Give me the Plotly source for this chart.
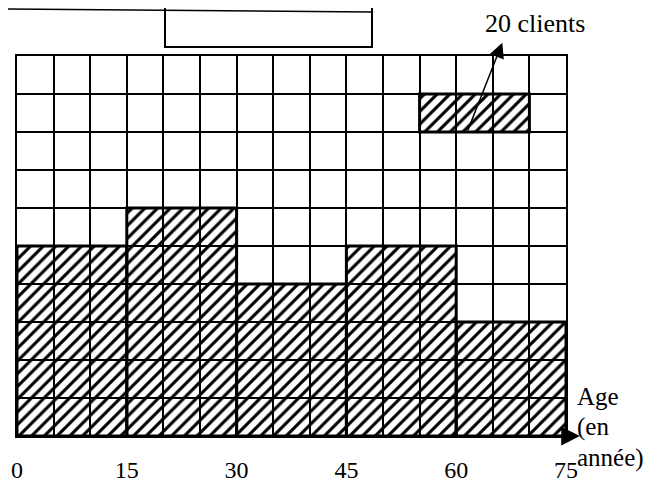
import plotly.graph_objects as go

# Data
age_bins_start = [0, 15, 30, 45, 60]
bin_width = 15
clients = [100, 120, 80, 100, 60]          # clients per 15-year class
tick_labels = ["0", "15", "30", "45", "60", "75"]
tick_positions = [0, 15, 30, 45, 60, 75]
legend_start = 55
legend_base = 160
legend_value = 20
legend_text = "20 clients"
x_title_lines = ["Age", "(en", "année)"]

SERIF = "'Liberation Serif', 'Times New Roman', Times, serif"

centers = [s + bin_width / 2 for s in age_bins_start]

pattern = dict(shape="/", size=9, solidity=0.34, fillmode="replace", fgcolor="black")

fig = go.Figure()
fig.add_trace(go.Bar(
    x=centers, y=clients, width=[bin_width] * len(clients),
    marker=dict(color="black", pattern=pattern, line=dict(color="black", width=3)),
    hoverinfo="skip", showlegend=False,
))
fig.add_trace(go.Bar(
    x=[legend_start + bin_width / 2], y=[legend_value], base=[legend_base], width=[bin_width],
    marker=dict(color="black", pattern=pattern, line=dict(color="black", width=3)),
    hoverinfo="skip", showlegend=False,
))

# the page body adds an 8px offset; margins compensate so the plot sits like the reference
fig.update_layout(
    width=660, height=484,
    margin=dict(l=9, r=102, t=48, b=56),
    paper_bgcolor="white", plot_bgcolor="white",
    barmode="overlay",
    font=dict(family=SERIF, color="black", size=20),
    xaxis=dict(
        range=[0, 75], tickvals=tick_positions, ticktext=tick_labels,
        showgrid=True, gridcolor="black", gridwidth=1.5,
        minor=dict(dtick=5, showgrid=True, gridcolor="black", gridwidth=1.5),
        showline=True, linecolor="black", linewidth=2, mirror=True,
        ticks="", ticklabelstandoff=11, zeroline=False, automargin=False,
        tickfont=dict(family=SERIF, size=24),
    ),
    yaxis=dict(
        range=[0, 200], dtick=20, showgrid=True, gridcolor="black", gridwidth=1.5,
        showticklabels=False, showline=True, linecolor="black", linewidth=2,
        mirror=True, zeroline=False, ticks="", automargin=False,
    ),
)

# "20 clients" label with arrow
fig.add_annotation(
    x=66.3, y=207, ax=61.5, ay=160, xref="x", yref="y", axref="x", ayref="y",
    text="", showarrow=True, arrowhead=2, arrowsize=2.0, arrowwidth=1.5, arrowcolor="black",
)
fig.add_annotation(
    x=(535 - 17) / 549, y=(436 - 24) / 380, xref="paper", yref="paper",
    xanchor="center", yanchor="middle",
    text=legend_text, showarrow=False, font=dict(family=SERIF, size=26),
)

# x-axis arrow
fig.add_annotation(
    x=(580 - 17) / 549, y=0, ax=-15, ay=0, xref="paper", yref="paper",
    text="", showarrow=True, arrowhead=2, arrowsize=1.5, arrowwidth=2.5, arrowcolor="black",
)

# Axis title lines
for i, line in enumerate(x_title_lines):
    fig.add_annotation(
        x=(575 - 17) / 549, y=(436 - (396 + 31 * i)) / 380, xref="paper", yref="paper",
        text=line, showarrow=False, xanchor="left", yanchor="middle",
        font=dict(family=SERIF, size=25),
    )

# partial table at the top (scan remnant)
def px(xp):
    return (xp - 17) / 549

def py(yp):
    return (436 - yp) / 380

fig.add_shape(type="rect", xref="paper", yref="paper",
              x0=px(165), x1=px(372), y0=py(47), y1=py(-5),
              line=dict(color="black", width=2), fillcolor="rgba(0,0,0,0)")
fig.add_shape(type="line", xref="paper", yref="paper",
              x0=px(0), x1=px(372), y0=py(9), y1=py(12),
              line=dict(color="black", width=1.5))

fig.write_html("out.html")
